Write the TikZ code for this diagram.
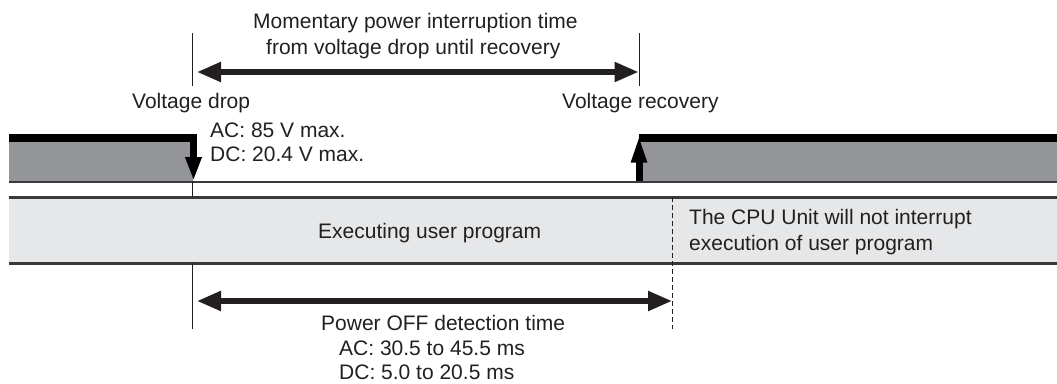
\documentclass[tikz,border=0pt]{standalone}
\usepackage{fontspec}
\setmainfont{Liberation Sans}
\usepackage{xcolor}
\usepackage{tikz}
\usetikzlibrary{arrows.meta,positioning}
\definecolor{txtgray}{HTML}{231F20}
\definecolor{bandgray}{HTML}{939598}
\definecolor{lightband}{HTML}{E6E7E8}
\definecolor{edgegray}{HTML}{3A3A3A}

\begin{document}
\begin{tikzpicture}[x=1pt,y=-1pt,
  lbl/.style={inner sep=0pt,anchor=base west,text=txtgray,font=\fontsize{21}{25}\selectfont},
  tick/.style={draw=txtgray,line width=1pt},
  span/.style={txtgray,line width=5.3pt,{Triangle[length=24pt,width=19pt]}-{Triangle[length=24pt,width=19pt]}}]
\useasboundingbox (0,0) rectangle (1057,383);
% supply level and program band
\fill[bandgray](9,142) rectangle (193,181);
\fill[bandgray](639,142) rectangle (1057,181);
\fill[lightband](9,197.5) rectangle (1057,263.5);
\draw[edgegray,line width=2.5pt](9,182)--(1057,182);
\draw[edgegray,line width=2.5pt](9,197.5)--(1057,197.5)
  (9,263.5)--(1057,263.5);
% named points
\coordinate (dropA) at (192,33);
\coordinate (dropB) at (192,86);
\coordinate (recA) at (639,33);
\coordinate (recB) at (639,86);
\coordinate (dropC) at (192,181);
\coordinate (dropD) at (192,197);
\coordinate (dropE) at (192,263);
\coordinate (dropF) at (192,329);
\coordinate (detA) at (672,197);
\coordinate (detB) at (672,329);
\coordinate (intL) at (197,72);
\coordinate (intR) at (638.5,72);
\coordinate (detL) at (197,301);
\coordinate (detR) at (672,301);
\coordinate (lvlA) at (9,138);
\coordinate (lvlB) at (193.5,138);
\coordinate (lvlC) at (193.5,181);
\coordinate (lvlD) at (639,181);
\coordinate (lvlE) at (639,134.5);
\coordinate (lvlF) at (639,138);
\coordinate (lvlG) at (1057,138);
% voltage steps
\draw[black,line width=7.5pt,-{Triangle[length=24pt,width=15pt]}](lvlA)--(lvlB)--(lvlC);
\draw[black,line width=7.5pt](lvlF)--(lvlG);
\draw[black,line width=7pt,-{Triangle[length=28pt,width=14pt]}](lvlD)--(lvlE);
% ticks
\draw[tick](dropA)--(dropB);
\draw[tick](recA)--(recB);
\draw[tick](dropC)--(dropD);
\draw[tick](dropE)--(dropF);
\draw[tick,dash pattern=on 5pt off 3pt](detA)--(detB);
% spans
\draw[span](intL)--(intR);
\draw[span](detL)--(detR);
% labels
\node[lbl] (intr1) at (253,28) {Momentary power interruption time};
\node[lbl] (intr2) at (266,54) {from voltage drop until recovery};
\node[lbl] (drop) at (132,108) {Voltage drop};
\node[lbl] (rec) at (562,108) {Voltage recovery};
\node[lbl] (dropac) at (210,137) {AC: 85 V max.};
\node[lbl] (dropdc) at (210,161) {DC: 20.4 V max.};
\node[lbl] (exec) at (318,238) {Executing user program};
\node[lbl] (cpu1) at (689,224) {The CPU Unit will not interrupt};
\node[lbl] (cpu2) at (689,250) {execution of user program};
\node[lbl] (det) at (321,330) {Power OFF detection time};
\node[lbl] (detac) at (339,355) {AC: 30.5 to 45.5 ms};
\node[lbl] (detdc) at (339,379) {DC: 5.0 to 20.5 ms};
\end{tikzpicture}
\end{document}
